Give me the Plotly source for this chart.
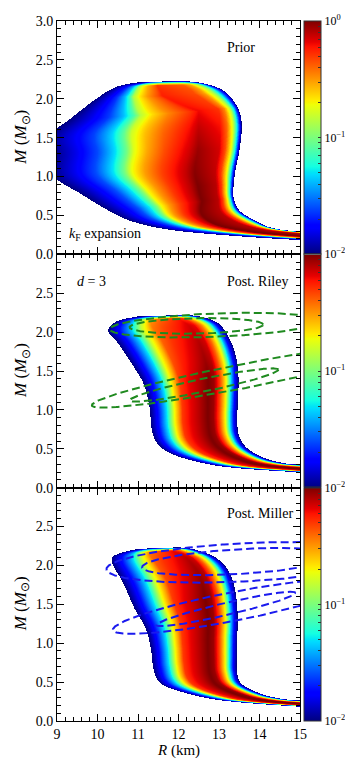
import numpy as np
import plotly.graph_objects as go

# ---------------- values ----------------
# Band edges (R in km, M in Msun), listed from the low-mass tail up to Mmax.
# left edge point i is paired with right edge point i.
prior_left_R = [16.0, 15.0, 13.5, 11.9, 10.9, 10.3, 9.6, 8.9, 8.9, 8.78, 9.3, 10.0, 10.5, 11.1]
prior_left_M = [0.16, 0.185, 0.235, 0.31, 0.42, 0.56, 0.78, 1.02, 1.3, 1.5, 1.72, 2.0, 2.15, 2.21]
prior_right_R = [16.0, 15.0, 14.3, 13.9, 13.5, 13.35, 13.35, 13.4, 13.5, 13.55, 13.45, 13.15, 12.7, 12.2]
prior_right_M = [0.25, 0.28, 0.33, 0.42, 0.55, 0.72, 0.9, 1.1, 1.36, 1.66, 1.88, 2.08, 2.18, 2.22]
prior_peak_s = [0.5, 0.5, 0.5, 0.55, 0.65, 0.75, 0.77, 0.78, 0.78, 0.78, 0.77, 0.51, 0.45, 0.45]
prior_peak_log = [0, 0, 0, 0, 0, 0, 0, -0.02, -0.05, -0.12, -0.2, -0.25, -0.3, -2.0]

riley_left_R = [16.0, 15.0, 13.55, 12.7, 11.9, 11.5, 11.35, 11.3, 11.16, 10.9, 10.5, 10.28, 10.5, 11.0]
riley_left_M = [0.165, 0.195, 0.245, 0.305, 0.42, 0.56, 0.75, 1.02, 1.32, 1.56, 1.87, 2.01, 2.13, 2.19]
riley_right_R = [16.0, 15.0, 14.5, 14.05, 13.65, 13.47, 13.44, 13.46, 13.47, 13.43, 13.27, 13.0, 12.6, 12.2]
riley_right_M = [0.26, 0.28, 0.31, 0.38, 0.51, 0.68, 0.9, 1.15, 1.4, 1.62, 1.88, 2.09, 2.18, 2.21]
riley_peak_s = [0.45, 0.45, 0.55, 0.62, 0.66, 0.66, 0.66, 0.66, 0.68, 0.7, 0.72, 0.73, 0.7, 0.6]
riley_peak_log = [0, 0, 0, 0, 0, 0, 0, 0, 0, -0.05, -0.1, -0.15, -0.25, -2.0]

miller_left_R = [16.0, 15.0, 13.55, 12.73, 11.9, 11.53, 11.39, 11.33, 11.2, 10.92, 10.65, 10.36, 10.55, 11.0]
miller_left_M = [0.165, 0.19, 0.245, 0.30, 0.41, 0.51, 0.69, 0.94, 1.2, 1.46, 1.78, 2.06, 2.15, 2.21]
miller_right_R = [16.0, 15.0, 14.54, 14.05, 13.55, 13.43, 13.43, 13.44, 13.45, 13.39, 13.22, 12.9, 12.4, 12.0]
miller_right_M = [0.24, 0.257, 0.28, 0.34, 0.47, 0.64, 0.85, 1.1, 1.35, 1.67, 1.93, 2.1, 2.2, 2.23]
miller_peak_s = [0.45, 0.45, 0.55, 0.62, 0.66, 0.66, 0.66, 0.66, 0.68, 0.7, 0.72, 0.73, 0.7, 0.6]
miller_peak_log = [0, 0, 0, 0, 0, 0, 0, 0, 0, 0, -0.05, -0.1, -0.2, -2.0]

# log10 density fall-off across the band, measured from the peak towards each edge
prior_lo_u = [0, 0.06, 0.23, 0.35, 0.44, 0.49, 0.57, 0.69, 0.83, 1.0]
prior_lo_lv = [0, -0.1, -0.3, -0.5, -0.72, -1.0, -1.3, -1.6, -1.8, -2.0]
prior_hi_u = [0, 0.5, 0.65, 0.8, 0.9, 1.0]
prior_hi_lv = [0, -0.1, -0.3, -0.72, -1.3, -2.0]
post_lo_u = [0, 0.15, 0.32, 0.44, 0.5, 0.58, 0.71, 0.85, 1.0]
post_lo_lv = [0, -0.1, -0.2, -0.3, -0.5, -0.72, -1.3, -1.7, -2.0]
post_hi_u = [0, 0.18, 0.38, 0.59, 0.74, 0.88, 1.0]
post_hi_lv = [0, -0.05, -0.32, -0.72, -1.3, -1.75, -2.0]

# NICER credible regions: centre R, centre M, half width in R, half height in M, tilt dM/dR
riley_Rc = [12.44, 12.9, 12.63, 13.8]
riley_Mc = [2.08, 2.09, 1.32, 1.454]
riley_a = [1.65, 2.6, 1.835, 3.94]
riley_b = [0.10, 0.15, 0.085, 0.158]
riley_tilt = [0.01, 0.02, 0.107, 0.10]

miller_Rc = [13.5, 13.62, 13.17, 13.33]
miller_Mc = [2.05, 2.04, 1.44, 1.47]
miller_a = [2.4, 3.4, 1.72, 2.95]
miller_b = [0.16, 0.246, 0.08, 0.188]
miller_tilt = [0.03, 0.026, 0.12, 0.10]

R_ticks = [9, 10, 11, 12, 13, 14, 15]
cbar_vals = [0.01, 0.02, 0.03, 0.04, 0.05, 0.06, 0.07, 0.08, 0.09,
             0.1, 0.2, 0.3, 0.4, 0.5, 0.6, 0.7, 0.8, 0.9, 1.0]

# ---------------- helpers ----------------
NR, NM = 243, 233
R_lo, R_hi, M_lo, M_hi = 9.0, 15.0, 0.0, 3.0


def spline(vals, t):
    v = np.asarray(vals, float)
    k = len(v)
    i = np.clip(np.floor(t).astype(int), 0, k - 2)
    u = t - i
    p0 = v[np.clip(i - 1, 0, k - 1)]
    p1 = v[i]
    p2 = v[i + 1]
    p3 = v[np.clip(i + 2, 0, k - 1)]
    return 0.5 * (2 * p1 + (-p0 + p2) * u + (2 * p0 - 5 * p1 + 4 * p2 - p3) * u ** 2
                  + (-p0 + 3 * p1 - 3 * p2 + p3) * u ** 3)


def density(lR, lM, rR, rM, pk_s, pk_log, lo_u, lo_lv, hi_u, hi_lv):
    k = len(lR)
    t = np.linspace(0, k - 1, 2400)[:, None]
    s = np.linspace(0, 1, 600)[None, :]
    idx = np.arange(k)
    LR, LM = spline(lR, t), spline(lM, t)
    RR, RM = spline(rR, t), spline(rM, t)
    sp = np.interp(t, idx, pk_s)
    A = np.interp(t, idx, pk_log)
    R = LR + s * (RR - LR)
    M = LM + s * (RM - LM)
    u_lo = np.clip((sp - s) / sp, 0, 1)
    u_hi = np.clip((s - sp) / (1 - sp), 0, 1)
    lv = np.where(s < sp, np.interp(u_lo, lo_u, lo_lv), np.interp(u_hi, hi_u, hi_lv))
    lz = A + lv * (2 + A) / 2
    ix = np.floor((R - R_lo) / (R_hi - R_lo) * NR).astype(int)
    iy = np.floor((M - M_lo) / (M_hi - M_lo) * NM).astype(int)
    ok = (ix >= 0) & (ix < NR) & (iy >= 0) & (iy < NM)
    Z = np.full((NM, NR), -np.inf)
    np.maximum.at(Z, (iy[ok], ix[ok]), lz[ok])
    Z[~np.isfinite(Z)] = np.nan
    return Z


def ellipse(Rc, Mc, a, b, tilt):
    th = np.linspace(0, 2 * np.pi, 400)
    return Rc + a * np.cos(th), Mc + tilt * a * np.cos(th) + b * np.sin(th)


# matplotlib "jet"
jet_pos = [0, 0.11, 0.125, 0.34, 0.35, 0.375, 0.64, 0.65, 0.66, 0.89, 0.91, 1]
jr = np.interp(jet_pos, [0, 0.35, 0.66, 0.89, 1], [0, 0, 1, 1, 0.5])
jg = np.interp(jet_pos, [0, 0.125, 0.375, 0.64, 0.91, 1], [0, 0, 1, 1, 0, 0])
jb = np.interp(jet_pos, [0, 0.11, 0.34, 0.65, 1], [0.5, 1, 1, 0, 0])
jet = [[p, f"rgb({int(r*255)},{int(g*255)},{int(b*255)})"] for p, r, g, b in zip(jet_pos, jr, jg, jb)]

xc = R_lo + (np.arange(NR) + 0.5) * (R_hi - R_lo) / NR
yc = M_lo + (np.arange(NM) + 0.5) * (M_hi - M_lo) / NM

panels = [
    (prior_left_R, prior_left_M, prior_right_R, prior_right_M, prior_peak_s, prior_peak_log,
     prior_lo_u, prior_lo_lv, prior_hi_u, prior_hi_lv),
    (riley_left_R, riley_left_M, riley_right_R, riley_right_M, riley_peak_s, riley_peak_log,
     post_lo_u, post_lo_lv, post_hi_u, post_hi_lv),
    (miller_left_R, miller_left_M, miller_right_R, miller_right_M, miller_peak_s, miller_peak_log,
     post_lo_u, post_lo_lv, post_hi_u, post_hi_lv),
]

FONT = "Liberation Serif"
W, H = 353, 758
ml, mr, mt, mb = 49, 38, 13, 45
pw = W - ml - mr
ph = H - mt - mb
xdom = (292 - ml) / pw
cb_x = (296 - ml) / pw

fig = go.Figure()
ydoms = [[2 / 3, 1], [1 / 3, 2 / 3], [0, 1 / 3]]

for k, p in enumerate(panels):
    Z = density(*p)
    tv = list(np.log10(cbar_vals))
    tt = []
    for v in cbar_vals:
        if v == 1.0:
            tt.append("10<sup>0</sup>" if k == 0 else "")
        elif v == 0.1:
            tt.append("10<sup>\u22121</sup>")
        elif v == 0.01:
            tt.append("10<sup>\u22122</sup>")
        else:
            tt.append("")
    fig.add_trace(go.Heatmap(
        x=xc, y=yc, z=Z, zmin=-2, zmax=0, colorscale=jet, hoverinfo="skip",
        xaxis="x" if k == 0 else f"x{k+1}", yaxis="y" if k == 0 else f"y{k+1}",
        colorbar=dict(x=cb_x, xanchor="left", y=sum(ydoms[k]) / 2, yanchor="middle",
                      len=1 / 3, lenmode="fraction", thickness=17, xpad=0, ypad=0,
                      outlinewidth=1, outlinecolor="#333", tickmode="array",
                      tickvals=tv, ticktext=tt, ticks="inside", ticklen=3,
                      tickcolor="#333", tickfont=dict(family=FONT, size=12)),
    ))

# credible regions
for k, (Rc, Mc, a, b, tl, col) in enumerate([
        (riley_Rc, riley_Mc, riley_a, riley_b, riley_tilt, "#1f8a1f"),
        (miller_Rc, miller_Mc, miller_a, miller_b, miller_tilt, "#1a1aee")]):
    for i in range(len(Rc)):
        ex, ey = ellipse(Rc[i], Mc[i], a[i], b[i], tl[i])
        fig.add_trace(go.Scatter(x=ex, y=ey, mode="lines", hoverinfo="skip",
                                 line=dict(color=col, width=2, dash="8px,4px"),
                                 xaxis=f"x{k+2}", yaxis=f"y{k+2}"))

axis_common = dict(showline=True, linecolor="black", linewidth=1, mirror="allticks",
                   ticks="inside", ticklen=7, tickwidth=1, tickcolor="black",
                   showgrid=False, zeroline=False,
                   tickfont=dict(family=FONT, size=14, color="black"))
for k in range(3):
    sfx = "" if k == 0 else str(k + 1)
    fig.layout["xaxis" + sfx] = dict(
        axis_common, domain=[0, xdom], range=[R_lo, R_hi], anchor="y" + sfx,
        tickmode="array", tickvals=R_ticks, showticklabels=(k == 2),
        minor=dict(dtick=0.2, ticks="inside", ticklen=4, tickcolor="black"))
    yt = [0, 0.5, 1.0, 1.5, 2.0, 2.5, 3.0] if k == 0 else [0, 0.5, 1.0, 1.5, 2.0, 2.5]
    fig.layout["yaxis" + sfx] = dict(
        axis_common, domain=ydoms[k], range=[M_lo, M_hi], anchor="x" + sfx,
        tickmode="array", tickvals=yt, ticktext=[f"{v:.1f}" for v in yt],
        minor=dict(dtick=0.1, ticks="inside", ticklen=4, tickcolor="black"))

ann = []
for k in range(3):
    ann.append(dict(text="<i>M</i> (<i>M</i><sub>\u2299</sub>)", xref="paper", yref="paper",
                    x=(14 - ml) / pw, y=sum(ydoms[k]) / 2, textangle=-90, showarrow=False,
                    xanchor="center", yanchor="middle", font=dict(family=FONT, size=17)))
ann.append(dict(text="<i>R</i> (km)", xref="paper", yref="paper", x=xdom / 2,
                y=-(742 - (H - mb)) / ph, xanchor="center", yanchor="middle", showarrow=False,
                font=dict(family=FONT, size=15)))
labels = [("Prior", 13.54, 2.665, "x", "y"),
          ("<i>k</i><sub>F</sub> expansion", 10.18, 0.257, "x", "y"),
          ("<i>d</i> = 3", 9.85, 2.65, "x2", "y2"),
          ("Post. Riley", 13.95, 2.65, "x2", "y2"),
          ("Post. Miller", 14.0, 2.665, "x3", "y3")]
for txt, xx, yy, xr, yr in labels:
    ann.append(dict(text=txt, x=xx, y=yy, xref=xr, yref=yr, showarrow=False,
                    font=dict(family=FONT, size=14)))

fig.update_layout(width=W, height=H, showlegend=False, annotations=ann,
                  margin=dict(l=ml, r=mr, t=mt, b=mb, autoexpand=False),
                  plot_bgcolor="white", paper_bgcolor="white",
                  font=dict(family=FONT, size=14, color="black"))

fig.write_html("out.html")
